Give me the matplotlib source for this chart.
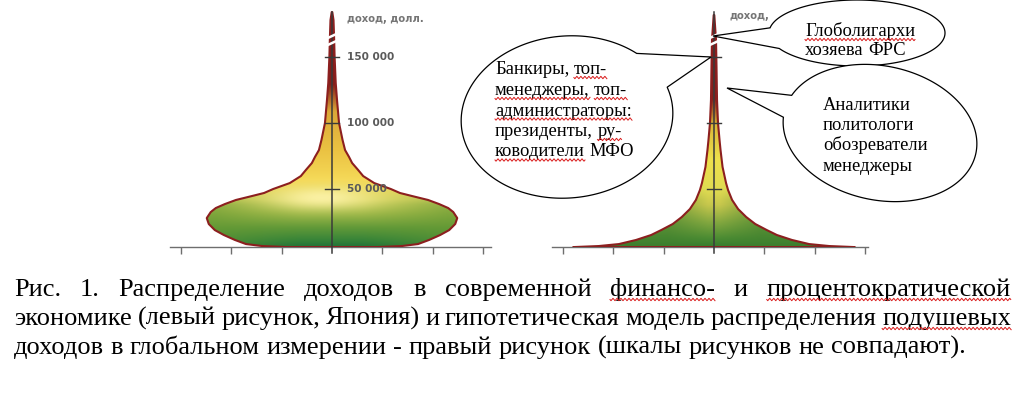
import numpy as np
import matplotlib
matplotlib.use("Agg")
import matplotlib.pyplot as plt
from matplotlib.patches import Polygon, Rectangle

# ---------------------------------------------------------------- data
# Left panel (Japan): income level and half-width of the distribution "onion"
LEFT_INCOME = [6000, 6800, 8300, 11400, 15150, 18900, 23500, 28000, 32600, 35600,
               38600, 41700, 44700, 47000, 50000, 54500, 59800, 64400, 69700, 74200,
               79500, 87100, 100000, 117400, 130300, 150000, 166700, 178000, 184000]
LEFT_HALF = [0.90, 1.39, 1.71, 1.93, 2.15, 2.33, 2.45, 2.49, 2.41, 2.31,
             2.13, 1.91, 1.59, 1.35, 1.17, 0.84, 0.62, 0.52, 0.40, 0.34,
             0.26, 0.21, 0.14, 0.10, 0.074, 0.052, 0.04, 0.03, 0.006]
# Right panel (hypothetical global model)
RIGHT_INCOME = [6000, 6800, 8300, 11400, 15150, 18900, 23500, 28800, 34800, 41700,
                49200, 54500, 66700, 79500, 87100, 100000, 117400, 142400, 162900, 181800]
RIGHT_HALF = [2.80, 2.29, 1.89, 1.55, 1.25, 1.05, 0.82, 0.64, 0.48, 0.36,
              0.28, 0.24, 0.17, 0.13, 0.11, 0.08, 0.06, 0.05, 0.04, 0.006]

Y_TICKS = [50000, 100000, 150000]
Y_TICK_LABELS = ["50 000", "100 000", "150 000"]
X_TICKS = [-3, -2, -1, 1, 2, 3]
BREAKS = [160600, 165900]
LEFT_AXIS_TITLE = "доход, долл."
RIGHT_AXIS_TITLE = "доход,"

BUBBLE_TOP = ["Глоболигархи", "хозяева ФРС"]
BUBBLE_LEFT = ["Банкиры, топ-", "менеджеры, топ-", "администраторы:",
               "президенты, ру-", "ководители МФО"]
BUBBLE_RIGHT = ["Аналитики", "политологи", "обозреватели", "менеджеры"]
UNDERLINED = {"Глоболигархи", "топ-", "менеджеры,", "администраторы:", "ру-",
              "ководители", "финансо-", "процентократической", "подушевых"}

CAPTION = ["Рис. 1. Распределение доходов в современной финансо- и процентократической",
           "экономике (левый рисунок, Япония) и гипотетическая модель распределения подушевых",
           "доходов в глобальном измерении - правый рисунок (шкалы рисунков не совпадают)."]

# ---------------------------------------------------------------- layout / style
W, H, DPI = 1027, 393, 100
PX_PER_UNIT = 50.3          # horizontal scale (pixels per population unit)
INC_PER_PX = 757.6          # vertical scale (income per pixel)
Y_MIN, Y_MAX = 6000, 193200
SERIF = ["Liberation Serif", "DejaVu Serif"]
SANS = ["DejaVu Sans"]
OUTLINE = (0.55, 0.12, 0.12)

fig = plt.figure(figsize=(W / DPI, H / DPI), dpi=DPI)
fig.patch.set_facecolor("white")
R = fig.canvas.get_renderer()


def ramp(py, stops):
    ys = [s[0] for s in stops]
    return np.stack([np.interp(py, ys, [s[1][i] for s in stops]) for i in range(3)], axis=-1)


LEFT_STOPS = [(0, (0.48, 0.10, 0.10)), (85, (0.52, 0.12, 0.10)), (112, (0.86, 0.66, 0.22)),
              (150, (0.92, 0.76, 0.26)), (180, (0.96, 0.85, 0.34)), (200, (0.86, 0.84, 0.38)),
              (214, (0.62, 0.72, 0.28)), (228, (0.38, 0.60, 0.22)), (240, (0.22, 0.52, 0.22)),
              (248, (0.12, 0.44, 0.22))]
RIGHT_STOPS = [(0, (0.48, 0.10, 0.10)), (100, (0.52, 0.12, 0.10)), (125, (0.86, 0.72, 0.22)),
               (160, (0.93, 0.88, 0.30)), (190, (0.88, 0.86, 0.32)), (205, (0.78, 0.78, 0.30)),
               (222, (0.52, 0.66, 0.25)), (238, (0.30, 0.55, 0.20)), (248, (0.20, 0.48, 0.18))]


def left_color(dx, py):
    c = ramp(py, LEFT_STOPS)
    w = (np.clip((np.abs(dx) - 30) / 85, 0, 1) ** 1.2 * 0.55 * np.clip((py - 185) / 20, 0, 1))[..., None]
    c = c * (1 - w) + np.array([0.40, 0.60, 0.20]) * w
    g = (0.85 * np.exp(-((dx + 10) / 48) ** 2 - ((py - 198) / 11) ** 2))[..., None]
    return c * (1 - g) + np.array([1.0, 0.96, 0.68]) * g


def right_color(dx, py):
    c = ramp(py, RIGHT_STOPS)
    w = (np.clip((np.abs(dx) - 6) / 40, 0, 1) * 0.55 * np.clip((py - 185) / 15, 0, 1))[..., None]
    return c * (1 - w) + np.array([0.25, 0.50, 0.18]) * w


def panel(center_px, xlim, income, half, colorfun, title, title_y, labels):
    left_px = center_px + xlim[0] * PX_PER_UNIT
    width_px = (xlim[1] - xlim[0]) * PX_PER_UNIT
    h_px = (Y_MAX - Y_MIN) / INC_PER_PX
    ax = fig.add_axes([left_px / W, (H - h_px) / H, width_px / W, h_px / H])
    ax.set_xlim(*xlim)
    ax.set_ylim(Y_MIN, Y_MAX)
    ax.patch.set_alpha(0)
    for s in ("left", "right", "top"):
        ax.spines[s].set_visible(False)
    ax.spines["bottom"].set_color("#6e6e6e")
    ax.spines["bottom"].set_linewidth(1.0)
    ax.set_yticks([])
    ax.set_xticks(X_TICKS)
    ax.tick_params(axis="x", direction="out", length=5, width=1, color="#6e6e6e", labelbottom=False)

    inc = np.array(income, float)
    hw = np.array(half, float)
    verts = np.concatenate([np.column_stack([hw, inc]), np.column_stack([-hw[::-1], inc[::-1]])])
    poly = Polygon(verts, closed=True, fc="none", ec=OUTLINE, lw=1.5, zorder=3, joinstyle="round")
    ax.add_patch(poly)

    # gradient fill clipped to the shape
    xs = np.linspace(xlim[0], xlim[1], 400)
    ys = np.linspace(Y_MIN, Y_MAX, 500)
    X, Y = np.meshgrid(xs, ys)
    dx = X * PX_PER_UNIT
    py = 255 - Y / INC_PER_PX
    img = np.clip(colorfun(dx, py), 0, 1)
    im = ax.imshow(img, extent=(xlim[0], xlim[1], Y_MIN, Y_MAX), origin="lower",
                   aspect="auto", interpolation="bilinear", zorder=2)
    im.set_clip_path(poly)

    # vertical axis
    ax.plot([0, 0], [1500, 184000], color="#3a3a3a", lw=1.1, zorder=4, clip_on=False)
    for v in Y_TICKS:
        ax.plot([-0.13, 0.13], [v, v], color="#3a3a3a", lw=1.0, zorder=4)
    if labels:
        for v, lab in zip(Y_TICKS, Y_TICK_LABELS):
            ax.text(0.3, v, lab, va="center", ha="left", fontsize=7.6, fontweight="bold",
                    family=SANS, color="#5a5a5a", zorder=5)
    ax.text(0.3, title_y, title, va="center", ha="left", fontsize=7.2, fontweight="bold",
            family=SANS, color="#757575", zorder=5)
    for b in BREAKS:
        ax.plot([-0.09, 0.09], [b - 1600, b + 1600], color="white", lw=1.8, zorder=6,
                solid_capstyle="butt")
    return ax


panel(332, (-3.22, 3.16), LEFT_INCOME, LEFT_HALF, left_color, LEFT_AXIS_TITLE, 179000, True)
panel(714, (-3.22, 3.06), RIGHT_INCOME, RIGHT_HALF, right_color, RIGHT_AXIS_TITLE, 181000, False)

# ---------------------------------------------------------------- overlay (bubbles, caption)
ov = fig.add_axes([0, 0, 1, 1], zorder=10)
ov.set_xlim(0, W)
ov.set_ylim(H, 0)
ov.axis("off")


def measure(s, **kw):
    t = ov.text(0, 0, s, **kw)
    w = t.get_window_extent(renderer=R).width
    t.remove()
    return w


def wave(x0, x1, y):
    xs = np.arange(x0, x1 + 0.5, 1.0)
    ys = y + 1.2 * np.sin((xs - x0) * np.pi / 2.0)
    ov.plot(xs, ys, color=(0.85, 0.1, 0.1), lw=0.7, zorder=30)


def place_line(x0, y, text, size, justify_to=None, clip=None):
    words = text.split(" ")
    kw = dict(fontsize=size, family=SERIF, color="black", va="baseline", ha="left", zorder=25)
    widths = [measure(wd, **kw) for wd in words]
    space = measure("н н", **kw) - measure("нн", **kw)
    if justify_to is not None and len(words) > 1:
        gap = (justify_to - x0 - sum(widths)) / (len(words) - 1)
    else:
        gap = space
    x = x0
    for wd, w in zip(words, widths):
        t = ov.text(x, y, wd, **kw)
        if clip is not None:
            t.set_clip_path(clip)
        if wd in UNDERLINED:
            wave(x, x + w, y + 3.5)
        x += w + gap


def bubble(cx, cy, a, b, phi, t_from, t_to, tip):
    ts = np.radians(np.linspace(t_from, t_to, 400))
    p = np.radians(phi)
    u, v = a * np.cos(ts), b * np.sin(ts)
    xs = cx + u * np.cos(p) - v * np.sin(p)
    ys = cy + u * np.sin(p) + v * np.cos(p)
    verts = np.column_stack([np.append(xs, tip[0]), np.append(ys, tip[1])])
    patch = Polygon(verts, closed=True, fc="white", ec="black", lw=0.9, zorder=20)
    ov.add_patch(patch)
    return patch


bubble(857, 33, 88, 33, 0, 189, 512, (713, 36))
bubble(880, 133, 98, 67, 12, 196, 536, (727, 88))
bubble(567, 117, 106, 81, -5, -15, 315, (711, 57))

BSIZE = 13.3
clip_rect = Rectangle((780, 0), 200, 54.0, transform=ov.transData)
for line, y in zip(BUBBLE_TOP, [36, 55]):
    place_line(805, y, line, BSIZE, clip=clip_rect)
for line, y in zip(BUBBLE_LEFT, [74, 95, 115.5, 136, 156.5]):
    place_line(495, y, line, BSIZE)
for line, y in zip(BUBBLE_RIGHT, [109.5, 130, 150.5, 171]):
    place_line(823, y, line, BSIZE)

# caption: fit last line width
cap_kw = dict(fontsize=18, family=SERIF)
csize = 18 * 951 / measure(CAPTION[2], **cap_kw)
place_line(14, 296, CAPTION[0], csize, justify_to=1011)
place_line(14, 325, CAPTION[1], csize, justify_to=1011)
place_line(14, 354, CAPTION[2], csize)

fig.savefig("out.png", dpi=DPI, facecolor="white")
